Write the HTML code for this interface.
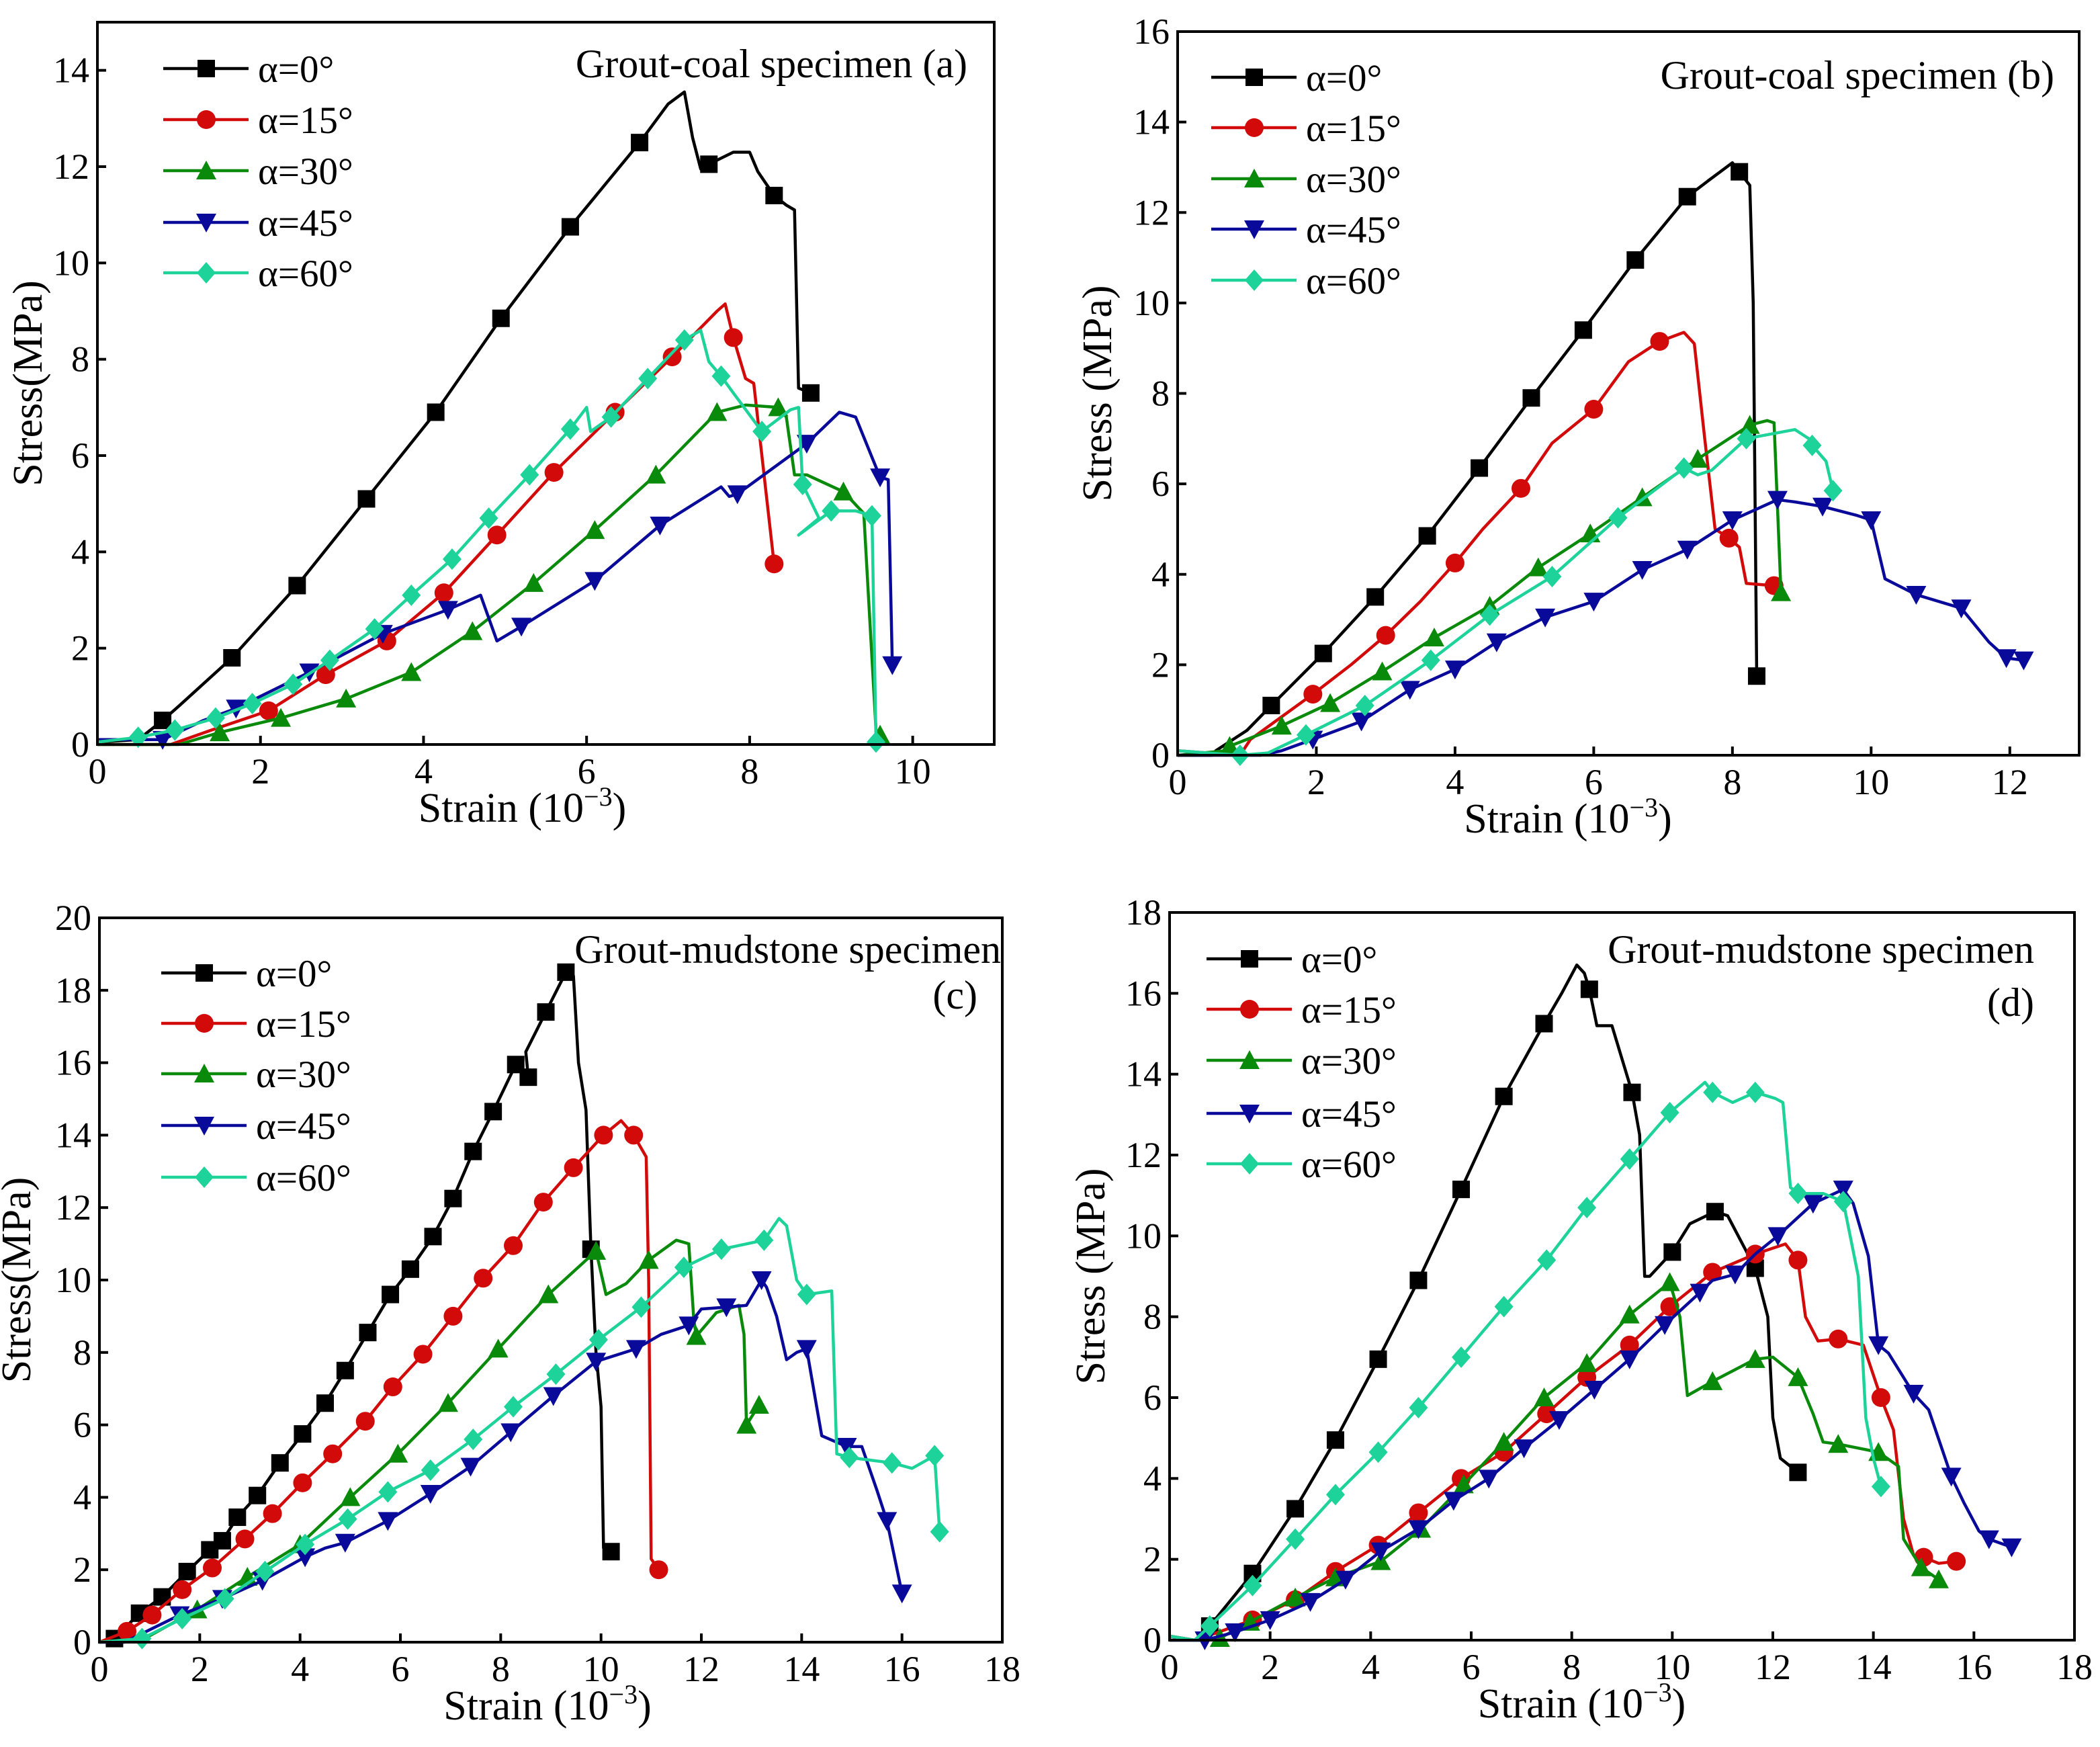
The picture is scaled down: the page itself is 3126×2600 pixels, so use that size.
<!DOCTYPE html>
<html><head><meta charset="utf-8">
<style>
html,body{margin:0;padding:0;background:#fff;}
svg{display:block;font-family:"Liberation Serif",serif;}
</style></head>
<body>
<svg id="fig" width="3126" height="2600" viewBox="0 0 3126 2600" xmlns="http://www.w3.org/2000/svg">
<rect width="3126" height="2600" fill="#fff"/>
</svg>
<script>
// ---- data: [strain, stress, marker(1/0)] ----
const a0=[[0,0.05,0],[0.5,0.1,0],[0.8,0.5,1],[1,0.8,0],[1.65,1.8,1],[2.45,3.3,1],[3.3,5.1,1],[4.15,6.9,1],[4.95,8.85,1],[5.8,10.75,1],[6.65,12.5,1],[7.0,13.3,0],[7.2,13.55,0],[7.3,12.6,0],[7.4,11.95,0],[7.5,12.05,1],[7.8,12.3,0],[8.0,12.3,0],[8.1,11.9,0],[8.3,11.4,1],[8.45,11.2,0],[8.55,11.1,0],[8.6,7.4,0],[8.75,7.3,1]];
const a15=[[0,0,0],[0.9,0,0],[1.4,0.3,0],[2.1,0.7,1],[2.8,1.45,1],[3.55,2.15,1],[4.25,3.15,1],[4.9,4.35,1],[5.6,5.65,1],[6.35,6.9,1],[7.05,8.05,1],[7.6,9.0,0],[7.7,9.15,0],[7.8,8.45,1],[7.95,7.6,0],[8.05,7.5,0],[8.3,3.75,1]];
const a30=[[0,0,0],[1.0,0,0],[1.5,0.25,1],[2.25,0.55,1],[3.05,0.95,1],[3.85,1.5,1],[4.6,2.35,1],[5.35,3.35,1],[6.1,4.45,1],[6.85,5.6,1],[7.6,6.9,1],[7.95,7.05,0],[8.35,7.0,1],[8.45,6.8,0],[8.55,5.6,0],[8.7,5.6,0],[9.15,5.25,1],[9.4,4.8,0],[9.55,0.3,0],[9.6,0.2,1]];
const a45=[[0,0.1,0],[0.8,0.1,1],[1.3,0.5,0],[1.7,0.75,1],[2.6,1.5,1],[3.5,2.3,1],[4.3,2.8,1],[4.7,3.1,0],[4.9,2.15,0],[5.2,2.45,1],[6.1,3.4,1],[6.9,4.55,1],[7.65,5.35,0],[7.75,5.15,0],[7.85,5.2,1],[8.7,6.25,1],[9.1,6.9,0],[9.3,6.8,0],[9.6,5.55,1],[9.7,5.5,0],[9.75,1.65,1]];
const a60=[[0,0.05,0],[0.5,0.15,1],[0.95,0.3,1],[1.45,0.55,1],[1.9,0.85,1],[2.4,1.25,1],[2.85,1.75,1],[3.4,2.4,1],[3.85,3.1,1],[4.35,3.85,1],[4.8,4.7,1],[5.3,5.6,1],[5.8,6.55,1],[6.0,7.0,0],[6.05,6.5,0],[6.3,6.8,1],[6.75,7.6,1],[7.2,8.4,1],[7.4,8.6,0],[7.5,7.95,0],[7.65,7.65,1],[7.8,7.3,0],[8.15,6.5,1],[8.5,6.95,0],[8.6,7.0,0],[8.65,5.4,1],[8.85,4.7,0],[8.6,4.35,0],[9.0,4.85,1],[9.3,4.85,0],[9.5,4.75,1],[9.55,0.05,1]];

const b0=[[0,0,0],[0.5,0,0],[0.55,0.1,0],[1.0,0.55,0],[1.35,1.1,1],[2.1,2.25,1],[2.85,3.5,1],[3.6,4.85,1],[4.35,6.35,1],[5.1,7.9,1],[5.85,9.4,1],[6.6,10.95,1],[7.35,12.35,1],[7.65,12.7,0],[8.0,13.1,0],[8.1,12.9,1],[8.25,12.6,0],[8.3,10.0,0],[8.35,1.75,1]];
const b15=[[0,0.1,0],[0.9,0,0],[1.05,0.35,0],[1.95,1.35,1],[2.5,2.0,0],[3.0,2.65,1],[3.5,3.4,0],[4.0,4.25,1],[4.4,5.0,0],[4.95,5.9,1],[5.4,6.9,0],[6.0,7.65,1],[6.5,8.7,0],[6.95,9.15,1],[7.3,9.35,0],[7.45,9.1,0],[7.6,7.0,0],[7.75,5.0,0],[7.95,4.8,1],[8.1,4.6,0],[8.2,3.8,0],[8.6,3.75,1]];
const b30=[[0,0,0],[0.7,0.1,0],[0.75,0.2,1],[1.5,0.65,1],[2.2,1.15,1],[2.95,1.85,1],[3.7,2.6,1],[4.5,3.3,1],[5.2,4.15,1],[5.95,4.9,1],[6.7,5.7,1],[7.5,6.55,1],[8.25,7.3,1],[8.5,7.4,0],[8.6,7.35,0],[8.7,3.6,1]];
const b45=[[0,0,0],[1.2,0,0],[1.5,0.1,0],[1.95,0.35,1],[2.65,0.75,1],[3.35,1.45,1],[4.0,1.9,1],[4.6,2.5,1],[5.3,3.05,1],[6.0,3.4,1],[6.7,4.1,1],[7.35,4.55,1],[8.0,5.2,1],[8.65,5.65,1],[8.9,5.6,0],[9.3,5.5,1],[9.8,5.3,0],[10.0,5.2,1],[10.2,3.9,0],[10.65,3.55,1],[11.3,3.25,1],[11.7,2.5,0],[11.95,2.15,1],[12.2,2.1,1]];
const b60=[[0,0.1,0],[0.9,0,1],[1.3,0.05,0],[1.85,0.45,1],[2.7,1.1,1],[3.65,2.1,1],[4.5,3.1,1],[5.4,3.95,1],[6.35,5.25,1],[7.3,6.35,1],[7.5,6.2,0],[7.7,6.3,0],[8.2,7.0,1],[8.9,7.2,0],[9.1,7.0,0],[9.15,6.85,1],[9.35,6.5,0],[9.45,5.85,1]];

const c0=[[0,0,0],[0.3,0.1,1],[0.8,0.8,1],[1.25,1.25,1],[1.75,1.95,1],[2.2,2.55,1],[2.45,2.8,1],[2.75,3.45,1],[3.15,4.05,1],[3.6,4.95,1],[4.05,5.75,1],[4.5,6.6,1],[4.9,7.5,1],[5.35,8.55,1],[5.8,9.6,1],[6.2,10.3,1],[6.65,11.2,1],[7.05,12.25,1],[7.45,13.55,1],[7.85,14.65,1],[8.3,15.95,1],[8.55,15.6,1],[8.5,16.3,0],[8.9,17.4,1],[9.3,18.5,1],[9.45,18.4,0],[9.55,16.0,0],[9.7,14.7,0],[9.8,10.85,1],[9.9,8.0,0],[10.0,6.5,0],[10.05,2.6,0],[10.2,2.5,1]];
const c15=[[0,0,0],[0.55,0.3,1],[1.05,0.75,1],[1.65,1.45,1],[2.25,2.05,1],[2.9,2.85,1],[3.45,3.55,1],[4.05,4.4,1],[4.65,5.2,1],[5.3,6.1,1],[5.85,7.05,1],[6.45,7.95,1],[7.05,9.0,1],[7.65,10.05,1],[8.25,10.95,1],[8.85,12.15,1],[9.45,13.1,1],[10.05,14.0,1],[10.4,14.4,0],[10.65,14.0,1],[10.9,13.4,0],[10.95,10.0,0],[11.0,2.3,0],[11.15,2.0,1]];
const c30=[[0,0,0],[0.9,0.1,0],[1.95,0.9,1],[2.95,1.8,1],[4.0,2.7,1],[5.0,4.0,1],[5.95,5.2,1],[6.95,6.6,1],[7.95,8.1,1],[8.95,9.6,1],[9.9,10.8,1],[10.1,9.6,0],[10.5,9.9,0],[10.95,10.55,1],[11.5,11.1,0],[11.75,11.0,0],[11.85,8.9,0],[11.9,8.45,1],[12.3,9.1,0],[12.75,9.3,0],[12.85,8.5,0],[12.9,6.0,1],[13.15,6.55,1]];
const c45=[[0,0,0],[0.5,0,0],[1.6,0.75,1],[2.45,1.2,1],[3.25,1.7,1],[4.1,2.35,1],[4.5,2.6,0],[4.9,2.75,1],[5.75,3.35,1],[6.6,4.1,1],[7.4,4.85,1],[8.2,5.8,1],[9.05,6.8,1],[9.9,7.75,1],[10.7,8.1,1],[11.2,8.5,0],[11.75,8.75,1],[12.0,9.2,0],[12.5,9.25,1],[12.9,9.3,0],[13.2,10.0,1],[13.3,9.8,0],[13.5,9.0,0],[13.7,7.8,0],[13.9,8.0,0],[14.1,8.1,1],[14.3,6.5,0],[14.4,5.7,0],[14.9,5.4,1],[15.2,5.4,0],[15.5,4.2,0],[15.7,3.35,1],[16.0,1.35,1]];
const c60=[[0,0,0],[0.85,0.1,1],[1.65,0.65,1],[2.5,1.2,1],[3.3,1.95,1],[4.1,2.7,1],[4.95,3.4,1],[5.75,4.15,1],[6.6,4.75,1],[7.45,5.6,1],[8.25,6.5,1],[9.1,7.4,1],[9.95,8.35,1],[10.8,9.25,1],[11.65,10.35,1],[12.4,10.85,1],[13.25,11.1,1],[13.55,11.7,0],[13.7,11.5,0],[13.9,10.0,0],[14.1,9.6,1],[14.6,9.7,0],[14.7,5.2,0],[14.95,5.1,1],[15.8,4.95,1],[16.2,4.8,0],[16.65,5.15,1],[16.75,3.05,1]];

const d0=[[0,0.1,0],[0.5,0,0],[0.8,0.35,1],[1.65,1.65,1],[2.5,3.25,1],[3.3,4.95,1],[4.15,6.95,1],[4.95,8.9,1],[5.8,11.15,1],[6.65,13.45,1],[7.45,15.25,1],[7.8,16.0,0],[8.1,16.7,0],[8.25,16.5,0],[8.35,16.1,1],[8.5,15.2,0],[8.8,15.2,0],[9.2,13.55,1],[9.35,12.5,0],[9.45,9.0,0],[9.55,9.0,0],[10.0,9.6,1],[10.35,10.3,0],[10.85,10.6,1],[11.1,10.5,0],[11.65,9.2,1],[11.9,8.0,0],[12.0,5.5,0],[12.15,4.5,0],[12.5,4.15,1]];
const d15=[[0,0.1,0],[0.5,0,0],[0.75,0.1,0],[1.65,0.5,1],[2.5,1.0,1],[3.3,1.7,1],[4.15,2.35,1],[4.95,3.15,1],[5.8,4.0,1],[6.65,4.65,1],[7.5,5.6,1],[8.3,6.5,1],[9.15,7.3,1],[9.95,8.25,1],[10.8,9.1,1],[11.65,9.55,1],[12.25,9.8,0],[12.5,9.4,1],[12.65,8.0,0],[12.9,7.4,0],[13.3,7.45,1],[13.8,7.3,0],[14.15,6.0,1],[14.4,5.2,0],[14.6,3.0,0],[14.8,2.1,0],[15.0,2.05,1],[15.3,1.9,0],[15.65,1.95,1]];
const d30=[[0,0,0],[0.6,0,0],[1.0,0.05,1],[1.6,0.45,1],[2.5,1.05,1],[3.3,1.55,1],[4.2,1.95,1],[5.0,2.75,1],[5.85,3.85,1],[6.65,4.9,1],[7.45,6.0,1],[8.3,6.85,1],[9.15,8.05,1],[9.95,8.85,1],[10.15,8.0,0],[10.3,6.05,0],[10.8,6.4,1],[11.65,6.95,1],[12.0,7.0,0],[12.5,6.5,1],[12.8,5.6,0],[13.0,4.9,0],[13.3,4.85,1],[14.1,4.65,1],[14.5,4.3,0],[14.6,2.5,0],[14.95,1.8,1],[15.3,1.5,1]];
const d45=[[0,0,0],[0.7,0,1],[1.3,0.2,1],[2.0,0.5,1],[2.8,0.95,1],[3.5,1.5,1],[4.2,2.2,1],[4.95,2.75,1],[5.65,3.45,1],[6.35,4.0,1],[7.05,4.75,1],[7.75,5.45,1],[8.45,6.2,1],[9.15,6.95,1],[9.85,7.8,1],[10.55,8.6,1],[10.8,8.9,0],[11.25,9.05,1],[11.65,9.55,0],[12.1,10.0,1],[12.8,10.8,1],[13.4,11.15,1],[13.6,10.8,0],[13.9,9.5,0],[14.1,7.3,1],[14.3,7.1,0],[14.8,6.1,1],[15.1,5.7,0],[15.55,4.05,1],[15.8,3.4,0],[16.1,2.7,0],[16.3,2.5,1],[16.75,2.3,1]];
const d60=[[0,0.1,0],[0.5,0,0],[0.8,0.35,1],[1.65,1.35,1],[2.5,2.5,1],[3.3,3.6,1],[4.15,4.65,1],[4.95,5.75,1],[5.8,7.0,1],[6.65,8.25,1],[7.5,9.4,1],[8.3,10.7,1],[9.15,11.9,1],[9.95,13.05,1],[10.65,13.8,0],[10.8,13.55,1],[11.2,13.3,0],[11.65,13.55,1],[12.05,13.4,0],[12.2,13.3,0],[12.35,11.2,0],[12.5,11.05,1],[13.0,11.05,0],[13.4,10.85,1],[13.7,9.0,0],[13.85,5.5,0],[14.0,4.5,0],[14.15,3.8,1]];

const xTicksA=[0,2,4,6,8,10], yTicksA=[0,2,4,6,8,10,12,14];
const xTicksB=[0,2,4,6,8,10,12], yTicksB=[0,2,4,6,8,10,12,14,16];
const xTicksC=[0,2,4,6,8,10,12,14,16,18], yTicksC=[0,2,4,6,8,10,12,14,16,18,20];
const xTicksD=[0,2,4,6,8,10,12,14,16,18], yTicksD=[0,2,4,6,8,10,12,14,16,18];
const legendLabels=["α=0°","α=15°","α=30°","α=45°","α=60°"];

const COLORS=["#000000","#d20a0a","#0a8a0a","#0a0a9a","#1ed39a"];
const SHAPES=["square","circle","up","down","diamond"];
const NS="http://www.w3.org/2000/svg";
const svg=document.getElementById('fig');
function mk(tag,attrs,parent){const e=document.createElementNS(NS,tag);for(const k in attrs)e.setAttribute(k,attrs[k]);(parent||svg).appendChild(e);return e;}

function marker(g,shape,cx,cy,col){
  let e; const s=13;
  if(shape==="square") e=mk('rect',{x:cx-s,y:cy-s,width:2*s,height:2*s,fill:col},g);
  else if(shape==="circle") e=mk('circle',{cx:cx,cy:cy,r:s+1,fill:col},g);
  else if(shape==="up") e=mk('polygon',{points:`${cx},${cy-s-2} ${cx+s+2},${cy+s} ${cx-s-2},${cy+s}`,fill:col},g);
  else if(shape==="down") e=mk('polygon',{points:`${cx-s-2},${cy-s} ${cx+s+2},${cy-s} ${cx},${cy+s+2}`,fill:col},g);
  else e=mk('polygon',{points:`${cx},${cy-s-3} ${cx+s+1},${cy} ${cx},${cy+s+3} ${cx-s-1},${cy}`,fill:col},g);
  
  
}

function panel(p){
  const g=mk('g',{});
  
  
  const X=v=>p.L+(v-p.xmin)/(p.xmax-p.xmin)*(p.R-p.L);
  const Y=v=>p.B-(v-p.ymin)/(p.ymax-p.ymin)*(p.B-p.T);
  p.series.forEach((s,i)=>{
    const sg=mk('g',{},g);
    
    
    const pl=mk('polyline',{points:s.map(d=>X(d[0]).toFixed(1)+','+Y(d[1]).toFixed(1)).join(' '),fill:'none',stroke:COLORS[i],'stroke-width':4.5,'stroke-linejoin':'round'},sg);
    
    
    s.forEach(d=>{if(d[2])marker(sg,SHAPES[i],X(d[0]),Y(d[1]),COLORS[i]);});
  });
  const fr=mk('rect',{x:p.L,y:p.T,width:p.R-p.L,height:p.B-p.T,fill:'none',stroke:'#000','stroke-width':4},g);
  
  
  p.xt.forEach(t=>{
    const x=X(t);
    const l=mk('line',{x1:x,y1:p.B,x2:x,y2:p.B-13,stroke:'#000','stroke-width':4},g);
    
    
    const tx=mk('text',{x:x,y:p.B+58,'font-size':54,'text-anchor':'middle',fill:'#000'},g);
    tx.textContent=t;
    
    
  });
  p.yt.forEach(t=>{
    const y=Y(t);
    const l=mk('line',{x1:p.L,y1:y,x2:p.L+13,y2:y,stroke:'#000','stroke-width':4},g);
    
    
    const tx=mk('text',{x:p.L-12,y:y+18,'font-size':54,'text-anchor':'end',fill:'#000'},g);
    tx.textContent=t;
    
    
  });
  const xt=mk('text',{x:(p.L+p.R)/2+p.xtOff,y:p.B+115,'font-size':62,'text-anchor':'middle',fill:'#000'},g);
  xt.innerHTML='Strain (10<tspan dy="-24" font-size="40">−3</tspan><tspan dy="24">)</tspan>';
  
  
  const yc=(p.T+p.B)/2;
  const yt=mk('text',{x:p.ytx,y:yc,'font-size':62,'text-anchor':'middle',fill:'#000',transform:`rotate(-90 ${p.ytx} ${yc})`},g);
  yt.textContent=p.ytitle;
  
  
  p.titles.forEach(t=>{
    const e=mk('text',{x:t[0],y:t[1],'font-size':60,'text-anchor':'end',fill:'#000'},g);
    e.textContent=t[2];
    
    
  });
  legendLabels.forEach((lab,i)=>{
    const y=p.legY[i];
    const lg=mk('g',{},g);
    
    
    mk('line',{x1:p.legX,y1:y,x2:p.legX+127,y2:y,stroke:COLORS[i],'stroke-width':4.5},lg);
    marker(lg,SHAPES[i],p.legX+64,y,COLORS[i]);
    const tx=mk('text',{x:p.legX+141,y:y+20,'font-size':57,fill:'#000'},lg);
    tx.textContent=lab;
  });
}

panel({id:'a',L:145,R:1480,T:33,B:1108,xmin:0,xmax:11,ymin:0,ymax:15,xt:xTicksA,yt:yTicksA,series:[a0,a15,a30,a45,a60],
  ytx:62,ytitle:'Stress(MPa)',xtOff:-35,titles:[[1440,115,'Grout-coal specimen (a)']],legX:243,legY:[102,178,254,331,406]});
panel({id:'b',L:1753,R:3095,T:47,B:1124,xmin:0,xmax:13,ymin:0,ymax:16,xt:xTicksB,yt:yTicksB,series:[b0,b15,b30,b45,b60],
  ytx:1654,ytitle:'Stress (MPa)',xtOff:-90,titles:[[3058,132,'Grout-coal specimen (b)']],legX:1803,legY:[115,190,266,341,417]});
panel({id:'c',L:148,R:1492,T:1366,B:2444,xmin:0,xmax:18,ymin:0,ymax:20,xt:xTicksC,yt:yTicksC,series:[c0,c15,c30,c45,c60],
  ytx:45,ytitle:'Stress(MPa)',xtOff:-5,titles:[[1490,1433,'Grout-mudstone specimen'],[1455,1501,'(c)']],legX:240,legY:[1448,1523,1598,1675,1752]});
panel({id:'d',L:1741,R:3088,T:1358,B:2441,xmin:0,xmax:18,ymin:0,ymax:18,xt:xTicksD,yt:yTicksD,series:[d0,d15,d30,d45,d60],
  ytx:1644,ytitle:'Stress (MPa)',xtOff:-60,titles:[[3028,1433,'Grout-mudstone specimen'],[3028,1512,'(d)']],legX:1796,legY:[1427,1502,1578,1657,1732]});
</script>
</body></html>
